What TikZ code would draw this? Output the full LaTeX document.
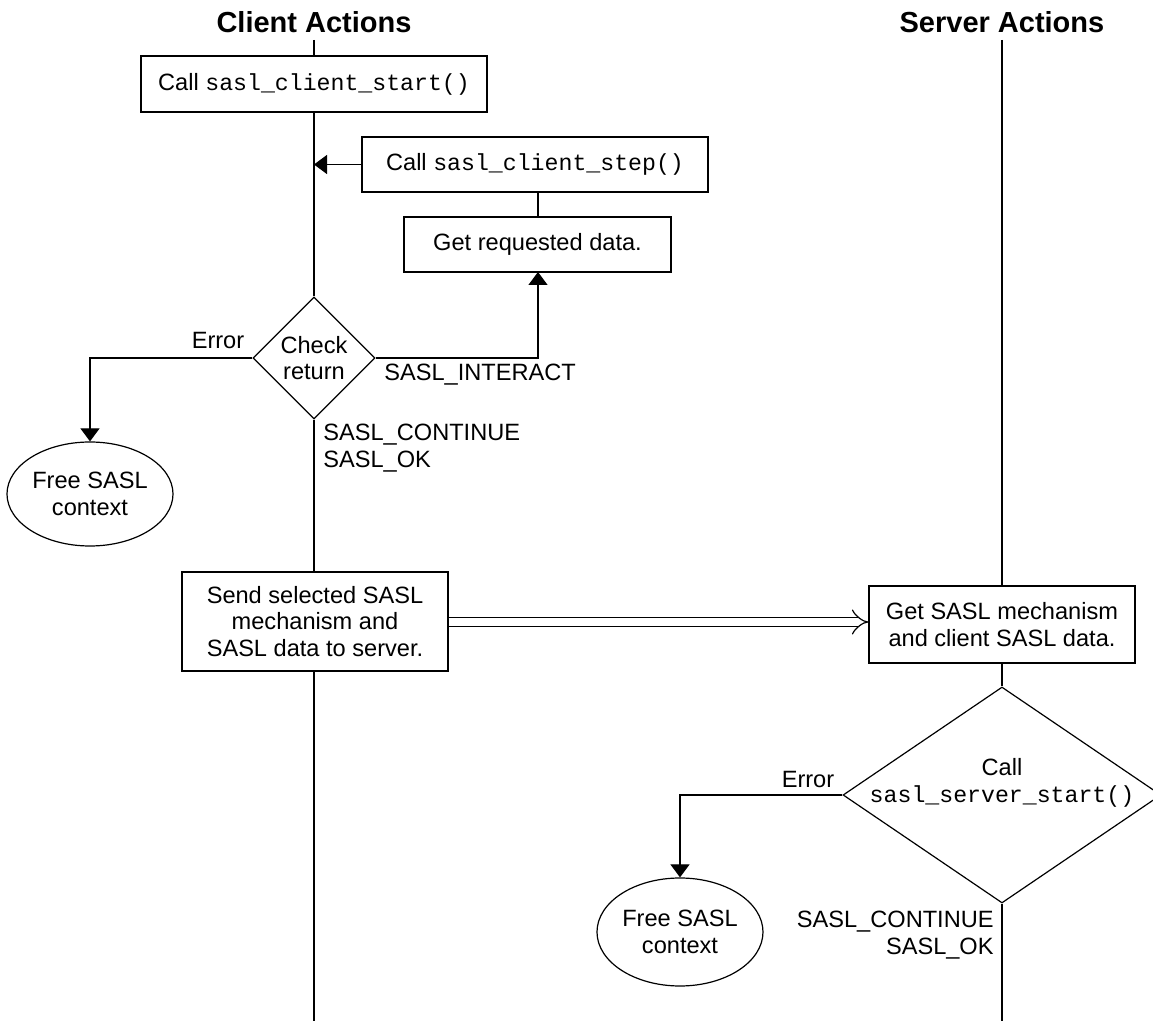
\documentclass[tikz,border=0pt]{standalone}
\usepackage{fontspec}
\usepackage{tikz}
\usetikzlibrary{shapes.geometric,arrows.meta}

\setmainfont{Liberation Sans}
\setmonofont{Liberation Mono}
\newcommand{\fn}[1]{{\fontsize{11.6}{13.3}\ttfamily #1}}

\tikzset{
  flowline/.style={line width=0.6pt},
  flowarrow/.style={flowline, -{Triangle[width=9.5pt,length=6.5pt]}},
  procbox/.style={draw, flowline, rectangle, inner sep=0pt, align=center},
  testdiam/.style={draw, flowline, diamond, inner sep=0pt, align=center},
  endoval/.style={draw, flowline, ellipse, inner sep=0pt, align=center},
  colhead/.style={font=\fontsize{14.5}{17}\selectfont\bfseries, inner sep=0pt},
  retlabel/.style={inner sep=0pt}
}

\begin{document}
\begin{tikzpicture}[x=0.5pt,y=-0.5pt,
  every node/.append style={font=\fontsize{11.8}{13.3}\selectfont}]

	\useasboundingbox (0,0) rectangle (1153,1021);

	% column heads
	\node[colhead] (chead) at (314,22) {Client Actions};
	\node[colhead] (shead) at (1002,22) {Server Actions};
	\coordinate (ctop) at (314,40);
	\coordinate (stop) at (1002,40);
	\coordinate (cbot) at (314,1021);
	\coordinate (sbot) at (1002,1021);

	% client side
	\node[procbox, minimum width=173pt, minimum height=28pt] (cstart) at (314,84) {Call \fn{sasl\_client\_start()}};
	\node[procbox, minimum width=173pt, minimum height=27.5pt] (cstep) at (535,164.5) {Call \fn{sasl\_client\_step()}};
	\node[procbox, minimum width=133.5pt, minimum height=27.5pt] (cget) at (537.5,244.5) {Get requested data.};
	\node[testdiam, minimum width=61pt, minimum height=61pt] (check) at (314,358) {Check\\return};
	\node[endoval, minimum width=83pt, minimum height=52pt] (cfree) at (90,494) {Free SASL\\context};
	\node[procbox, minimum width=133pt, minimum height=49.5pt] (csend) at (315,621.5) {Send selected SASL\\mechanism and\\SASL data to server.};

	\draw[flowline] (ctop) -- (cstart);
	\draw[flowline] (cstart) -- (check);
	\draw[flowline] (check) -- (csend.north -| check);
	\draw[flowline] (csend.south -| check) -- (cbot);
	\draw[flowarrow] (cstep.west) -- (cstep.west -| check);
	\draw[flowline] (cget.north -| 538,0) -- (cstep.south -| 538,0);
	\draw[flowarrow] (check.east) -| (538,272);
	\draw[flowarrow] (check.west) -| (cfree.north);

	\node[retlabel] (cerr) at (218,341) {Error};
	\node[retlabel, anchor=west] (cint) at (384,375) {SASL\_INTERACT};
	\node[retlabel, anchor=west, align=left] (cok) at (323,448) {SASL\_CONTINUE\\SASL\_OK};

	% server side
	\node[procbox, minimum width=133pt, minimum height=38.5pt] (sget) at (1002,624.5) {Get SASL mechanism\\and client SASL data.};
	\node[testdiam, minimum width=159pt, minimum height=108pt] (scall) at (1002,795) {};
	\node[retlabel, align=center] (scalltxt) at (1002,783) {Call\\\fn{sasl\_server\_start()}};
	\node[endoval, minimum width=83pt, minimum height=54pt] (sfree) at (680,932) {Free SASL\\context};

	\draw[flowline] (stop) -- (sget);
	\draw[flowline] (sget) -- (scall);
	\draw[flowline] (scall) -- (sbot);
	\draw[flowarrow] (scall.west) -| (sfree.north);

	\node[retlabel] (serr) at (808,779) {Error};
	\node[retlabel, anchor=east, align=right] (sok) at (994,935) {SASL\_CONTINUE\\SASL\_OK};

	% hand over to server
	\draw[flowline, double distance=3.9pt, -{Implies[scale=1.4]}] (csend.east |- 0,622) -- (sget.west |- 0,622);

\end{tikzpicture}
\end{document}
